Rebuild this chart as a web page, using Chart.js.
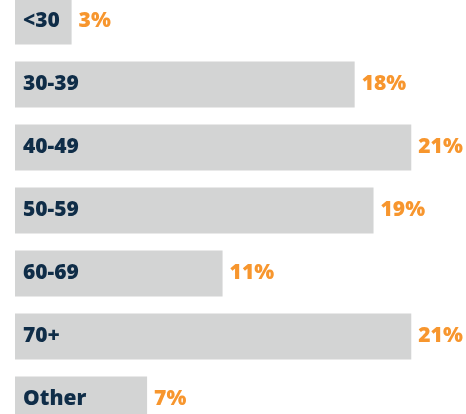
<!DOCTYPE html>
<html>
<head>
<meta charset="utf-8">
<script src="https://cdn.jsdelivr.net/npm/chart.js@4"></script>
<style>
  html, body { margin: 0; padding: 0; background: #fff; overflow: hidden; }
  #wrap { position: absolute; left: 0; top: -10px; width: 466px; height: 441px; }
</style>
</head>
<body>
<div id="wrap"><canvas id="ageChart"></canvas></div>
<script>
// age groups and share of respondents (%)
const ageGroups = ['<30', '30-39', '40-49', '50-59', '60-69', '70+', 'Other']
const sharePct = [3, 18, 21, 19, 11, 21, 7]

const barGrey = '#d3d4d4'
const navy = '#0f2d48'
const orange = '#f7962e'

// draws category name inside the bar and the % after its end
const barLabels = {
  id: 'barLabels',
  afterDatasetsDraw(chart) {
    const { ctx } = chart
    const meta = chart.getDatasetMeta(0)
    ctx.save()
    ctx.font = '800 21px "Open Sans", sans-serif'
    ctx.textBaseline = 'middle'
    meta.data.forEach((bar, i) => {
      ctx.fillStyle = navy
      ctx.textAlign = 'left'
      ctx.fillText(ageGroups[i], bar.base + 8, bar.y)
      ctx.fillStyle = orange
      ctx.fillText(sharePct[i] + '%', bar.x + 7, bar.y)
    })
    ctx.restore()
  }
}

new Chart(document.getElementById('ageChart'), {
  type: 'bar',
  data: {
    labels: ageGroups,
    datasets: [{
      data: sharePct,
      backgroundColor: barGrey,
      borderWidth: 0,
      categoryPercentage: 1,
      barPercentage: 0.73
    }]
  },
  options: {
    indexAxis: 'y',
    responsive: true,
    maintainAspectRatio: false,
    animation: false,
    layout: { padding: { left: 15, right: 0, top: 0, bottom: 0 } },
    plugins: { legend: { display: false }, tooltip: { enabled: false } },
    scales: {
      x: { display: false, min: 0, max: 23.9 },
      y: { display: false }
    }
  },
  plugins: [barLabels]
})
</script>
</body>
</html>
